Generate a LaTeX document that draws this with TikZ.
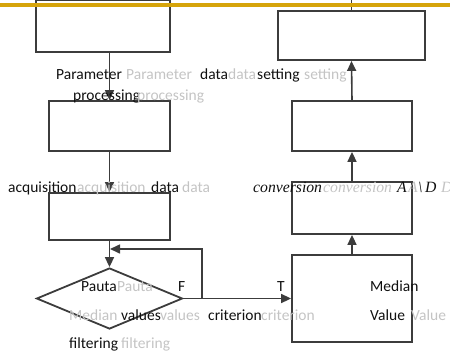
\documentclass[tikz,border=0pt]{standalone}
\usepackage{fontspec}
\setmainfont{Carlito}
\newfontfamily\serifit{Liberation Serif}
\usetikzlibrary{arrows.meta,shapes.geometric,calc}
\definecolor{ln}{HTML}{3C3C3C}
\definecolor{tx}{HTML}{101010}
\definecolor{gt}{HTML}{C4C4C4}
\definecolor{bar}{HTML}{D6A40A}
\begin{document}
\begin{tikzpicture}[x=1pt,y=-1pt,
  box/.style={draw=ln,line width=1.8pt,rectangle,inner sep=0pt},
  flow/.style={draw=ln,line width=1.6pt,-{Triangle[length=10pt,width=9pt]}},
  plain/.style={draw=ln,line width=1.6pt},
  bt/.style={anchor=base west,inner sep=0pt,text=tx,font=\fontsize{15.5}{18}\selectfont},
  gtx/.style={anchor=base west,inner sep=0pt,text=gt,font=\fontsize{15.5}{18}\selectfont},
  bi/.style={anchor=base west,inner sep=0pt,text=tx,font=\serifit\itshape\fontsize{15.7}{18}\selectfont},
  gi/.style={anchor=base west,inner sep=0pt,text=gt,font=\serifit\itshape\fontsize{15.7}{18}\selectfont}]
\useasboundingbox (0,0) rectangle (450,356);
% boxes
\node[box,minimum width=134pt,minimum height=51.5pt] (b1) at (103,26.3) {};
\node[box,minimum width=121pt,minimum height=50pt] (b2) at (109.5,126) {};
\node[box,minimum width=121pt,minimum height=47pt] (b3) at (109.5,216.5) {};
\node[draw=ln,line width=1.8pt,diamond,aspect=2.4,minimum width=146pt,minimum height=61pt,inner sep=0pt] (d) at (109.5,298.5) {};
\node[box,minimum width=147pt,minimum height=49pt] (r1) at (351.5,35.5) {};
\node[box,minimum width=120pt,minimum height=50pt] (r2) at (352,126) {};
\node[box,minimum width=120pt,minimum height=52pt] (r3) at (352,208) {};
\node[box,minimum width=120pt,minimum height=87pt] (r4) at (352,298.5) {};
% connectors
\coordinate (t1) at (110,0);
\coordinate (t2) at (r1.north |- t1);
\draw[plain] (t1) -- (t1 |- b1.north);
\draw[plain] (t2) -- (r1.north);
\draw[flow] (b2.north |- b1.south) -- (b2.north);
\draw[flow] (b2.south) -- (b3.north);
\draw[flow] (b3.south) -- (d.north);
\draw[flow] (d.east) -- (r4.west);
\coordinate (fb) at (202,298.5);
\coordinate (fe) at (110,249);
\draw[flow] (fb) |- (fe);
\draw[flow] (r4.north) -- (r3.south);
\draw[flow] (r3.north) -- (r2.south);
\draw[flow] (r2.north) -- (r1.south);
% top bar
\fill[bar] (0,3) rectangle (450,7);
% texts
\node[bt] (p1) at (56,79) {Parameter};
\node[gtx] (p2) at (126,79) {Parameter};
\node[bt] (p3) at (200,79) {data};
\node[gtx] (p4) at (228,79) {data};
\node[bt] (p5) at (257,79) {setting};
\node[gtx] (p6) at (304,79) {setting};
\node[bt] (q1) at (73,100) {processing};
\node[gtx] (q2) at (137,100) {processing};
\node[bt] (a1) at (8,192) {acquisition};
\node[gtx] (a2) at (77,192) {acquisition};
\node[bt] (a3) at (151,192) {data};
\node[gtx] (a4) at (182,192) {data};
\node[bi] (c1) at (253,192) {conversion};
\node[gi] (c2) at (323,192) {conversion};
\node[bi] (c3) at (397,192) {A};
\node[gi] (c4) at (408,192) {A};
\node[bi] (c5) at (418,192) {\textbackslash\,D};
\node[gi] (c6) at (441,192) {D};
\node[bt] (m1) at (81,291) {Pauta};
\node[gtx] (m2) at (117,291) {Pauta};
\node[bt] (f) at (178,291) {F};
\node[bt] (t) at (277,291) {T};
\node[bt] (m3) at (370,291) {Median};
\node[gtx] (v0) at (69,320) {Median};
\node[bt] (v1) at (121,320) {values};
\node[gtx] (v2) at (160,320) {values};
\node[bt] (v3) at (208,320) {criterion};
\node[gtx] (v4) at (261,320) {criterion};
\node[bt] (v5) at (370,320) {Value};
\node[gtx] (v6) at (411,320) {Value};
\node[bt] (g1) at (69,348) {filtering};
\node[gtx] (g2) at (121,348) {filtering};
\end{tikzpicture}
\end{document}
